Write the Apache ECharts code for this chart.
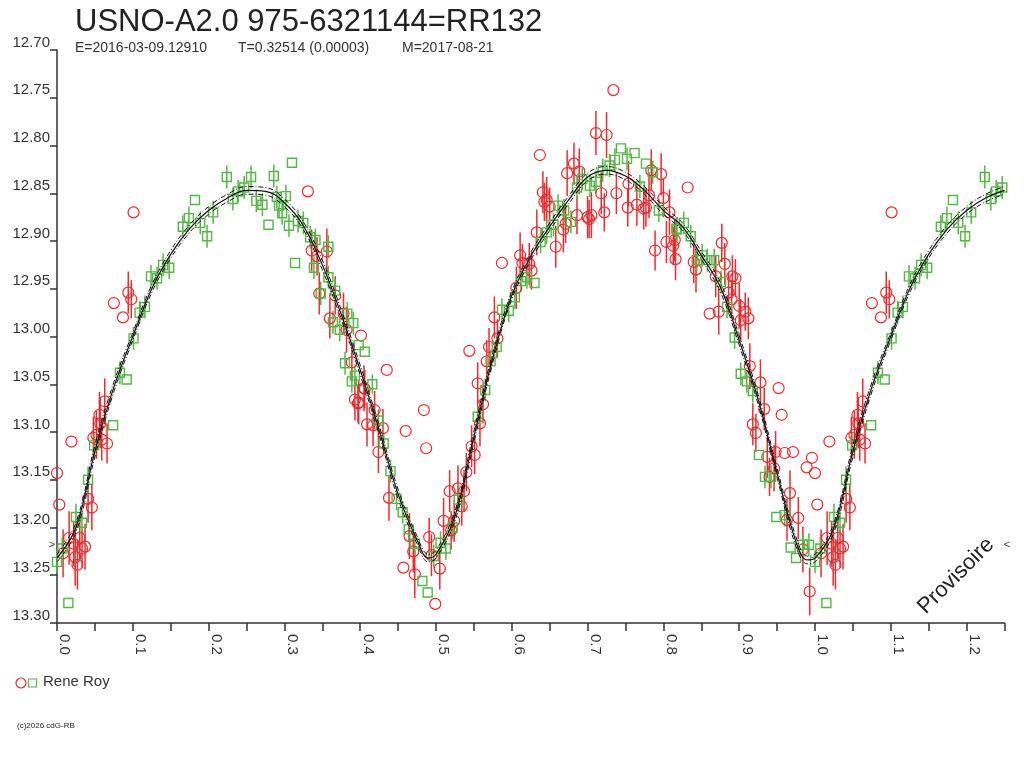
<!DOCTYPE html>
<html>
<head>
<meta charset="utf-8">
<title>RR132</title>
<script src="https://cdn.jsdelivr.net/npm/echarts@6/dist/echarts.min.js"></script>
<style>
html, body { margin: 0; padding: 0; background: #fff; }
#chart { width: 1024px; height: 768px; }
</style>
</head>
<body>
<div id="chart"></div>
<script>
var titleText = 'USNO-A2.0 975-6321144=RR132';
var subTexts = ['E=2016-03-09.12910', 'T=0.32514 (0.00003)', 'M=2017-08-21'];
var observer = 'Rene Roy';
var copyText = '(c)2026 cdG-RB';
var stampText = 'Provisoire';
var refMag = 13.218;

// [phase, mag, error] -- error 0 means no bar drawn
var redObs = [
    [0.000,13.143,0],[0.003,13.176,0],[0.008,13.227,0.025],[0.016,13.211,0.028],[0.019,13.110,0],
    [0.022,13.217,0.024],[0.024,13.231,0.030],[0.027,13.239,0.026],[0.030,13.211,0.022],[0.033,13.222,0.020],
    [0.037,13.220,0.024],[0.041,13.170,0.025],[0.046,13.179,0.024],[0.048,13.106,0.022],[0.052,13.103,0.025],
    [0.056,13.082,0.024],[0.057,13.091,0.026],[0.059,13.108,0.022],[0.063,13.068,0.024],[0.066,13.112,0.021],
    [0.075,12.965,0],[0.087,12.980,0],[0.094,12.954,0.022],[0.098,12.961,0.020],[0.101,12.870,0],
    [0.331,12.848,0],[0.336,12.910,0.022],[0.343,12.916,0.020],[0.346,12.955,0.022],[0.356,12.911,0.024],
    [0.360,12.981,0.021],[0.367,12.957,0.020],[0.378,12.976,0.022],[0.382,12.993,0.024],[0.389,13.027,0.020],
    [0.393,13.066,0.022],[0.397,13.070,0.020],[0.398,13.069,0.023],[0.401,12.999,0],[0.405,13.054,0.024],
    [0.406,13.055,0.020],[0.409,13.092,0.023],[0.417,13.093,0.022],[0.419,13.077,0.020],[0.424,13.121,0.022],
    [0.430,13.096,0.020],[0.435,13.035,0],[0.438,13.169,0.024],[0.457,13.242,0],[0.460,13.099,0],
    [0.465,13.209,0.024],[0.470,13.225,0.022],[0.472,13.249,0.025],[0.484,13.077,0],[0.487,13.117,0],
    [0.491,13.210,0.020],[0.494,13.229,0.022],[0.499,13.280,0],[0.505,13.243,0.022],[0.510,13.193,0.024],
    [0.518,13.162,0.022],[0.520,13.203,0.020],[0.524,13.193,0.022],[0.529,13.159,0.024],[0.534,13.178,0.020],
    [0.537,13.162,0.022],[0.540,13.142,0.020],[0.544,13.015,0],[0.547,13.115,0.022],[0.551,13.124,0.020],
    [0.555,13.049,0.022],[0.558,13.091,0.024],[0.562,13.071,0.020],[0.567,13.026,0.022],[0.570,13.011,0.020],
    [0.577,12.980,0.022],[0.581,13.002,0.020],[0.587,12.923,0],
    [0.606,12.949,0.022],[0.611,12.915,0.024],[0.614,12.923,0.020],[0.623,12.924,0.022],[0.626,12.931,0.020],
    [0.633,12.891,0.024],[0.637,12.810,0],[0.641,12.849,0.022],[0.643,12.859,0.020],[0.646,12.857,0.024],
    [0.650,12.864,0.020],[0.658,12.906,0.022],[0.668,12.888,0.024],[0.671,12.882,0.020],[0.673,12.829,0.024],
    [0.682,12.819,0.022],[0.686,12.873,0.020],[0.689,12.827,0.024],[0.700,12.875,0.022],[0.702,12.877,0.020],
    [0.705,12.873,0.024],[0.711,12.787,0.023],[0.718,12.850,0.022],[0.722,12.870,0.020],[0.725,12.789,0.024],
    [0.734,12.742,0],[0.738,12.850,0.022],[0.753,12.865,0.020],[0.754,12.840,0.024],[0.765,12.862,0.022],
    [0.774,12.866,0.022],[0.777,12.865,0.020],[0.781,12.852,0.024],[0.784,12.826,0.022],[0.789,12.910,0.021],
    [0.797,12.830,0.022],[0.800,12.855,0.020],[0.804,12.901,0.022],[0.808,12.870,0.024],[0.813,12.905,0.020],
    [0.815,12.899,0.022],[0.816,12.919,0.022],[0.832,12.844,0],[0.840,12.922,0.022],[0.843,12.930,0.024],
    [0.861,12.976,0],[0.869,12.937,0.022],[0.873,12.974,0.024],[0.877,12.902,0.020],[0.881,12.924,0.022],
    [0.886,12.954,0.022],[0.890,12.961,0.020],[0.891,12.937,0.022],[0.895,12.939,0.020],[0.900,12.968,0.024],
    [0.902,12.983,0.022],[0.908,12.974,0.020],[0.912,12.981,0.022],[0.914,13.031,0.024],[0.918,13.092,0.022],
    [0.922,13.101,0.020],[0.928,13.048,0.024],[0.933,13.076,0.022],[0.937,13.126,0.022],[0.940,13.147,0.020],
    [0.946,13.138,0.024],[0.948,13.121,0.022],[0.952,13.054,0],[0.956,13.082,0],[0.960,13.122,0],
    [0.963,13.192,0.022],[0.967,13.164,0.024],[0.971,13.121,0],[0.978,13.190,0.022],[0.984,13.223,0.024],
    [0.989,13.137,0],[0.993,13.267,0.025],[0.996,13.127,0]
];

var greenObs = [
    [0.000,13.236,0.012],[0.007,13.222,0.012],[0.015,13.279,0],[0.025,13.189,0.014],[0.033,13.195,0.012],
    [0.041,13.150,0.014],[0.049,13.114,0.012],[0.074,13.093,0],[0.083,13.038,0.012],[0.092,13.045,0],
    [0.101,13.002,0.012],[0.109,12.975,0.012],[0.116,12.969,0.012],[0.124,12.937,0.012],[0.132,12.939,0.012],
    [0.140,12.925,0.012],[0.148,12.928,0.012],[0.166,12.885,0.012],[0.174,12.876,0.012],[0.182,12.857,0],
    [0.189,12.881,0.012],[0.198,12.895,0.012],[0.206,12.870,0.012],[0.224,12.833,0.012],[0.232,12.856,0.012],
    [0.239,12.848,0.012],[0.247,12.844,0.012],[0.256,12.833,0.012],[0.263,12.858,0.012],[0.271,12.862,0.012],
    [0.279,12.883,0],[0.286,12.832,0.012],[0.290,12.854,0.012],[0.293,12.863,0.012],[0.297,12.871,0.012],
    [0.302,12.853,0.012],[0.306,12.884,0.012],[0.310,12.818,0],[0.314,12.923,0],[0.318,12.879,0.012],
    [0.325,12.881,0.012],[0.334,12.896,0.012],[0.339,12.928,0.012],[0.341,12.899,0.012],[0.348,12.955,0.012],
    [0.358,12.906,0.012],[0.358,12.938,0.012],[0.364,12.985,0.012],[0.367,12.952,0.012],[0.373,12.993,0.012],
    [0.380,13.028,0.012],[0.383,12.976,0.012],[0.389,13.047,0.012],[0.391,12.986,0.012],[0.393,13.041,0.012],
    [0.398,13.009,0],[0.406,13.016,0],[0.416,13.050,0.010],[0.424,13.088,0.012],[0.431,13.112,0.012],
    [0.440,13.141,0.012],[0.448,13.170,0.012],[0.456,13.184,0.012],[0.464,13.202,0.012],[0.472,13.217,0.012],
    [0.482,13.256,0],[0.489,13.268,0],[0.497,13.230,0.012],[0.506,13.216,0.012],[0.513,13.222,0.012],
    [0.522,13.200,0.012],[0.530,13.171,0.012],[0.555,13.084,0.012],[0.565,13.056,0.012],[0.572,13.026,0.012],
    [0.580,13.011,0.012],[0.587,12.972,0.012],[0.596,12.973,0.012],[0.604,12.959,0.012],[0.612,12.942,0.012],
    [0.620,12.938,0.012],[0.630,12.944,0],[0.638,12.901,0.012],[0.646,12.891,0.012],[0.655,12.883,0.012],
    [0.661,12.863,0.012],[0.669,12.868,0.012],[0.678,12.880,0.012],[0.686,12.844,0.012],[0.693,12.835,0.012],
    [0.703,12.842,0.012],[0.711,12.838,0.012],[0.720,12.826,0.012],[0.729,12.821,0.012],[0.736,12.815,0.012],
    [0.744,12.803,0],[0.752,12.814,0.012],[0.762,12.808,0],[0.769,12.843,0.012],[0.777,12.819,0],
    [0.786,12.828,0.012],[0.794,12.868,0.012],[0.817,12.887,0.012],[0.818,12.888,0.012],[0.827,12.881,0.012],
    [0.836,12.895,0.012],[0.844,12.920,0.012],[0.851,12.915,0.012],[0.858,12.920,0.012],[0.867,12.920,0.012],
    [0.876,12.943,0.012],[0.884,12.969,0.012],[0.894,13.001,0.012],[0.902,13.039,0.012],[0.910,13.047,0.012],
    [0.918,13.057,0.012],[0.926,13.124,0],[0.934,13.147,0.012],[0.942,13.147,0.012],[0.949,13.189,0],
    [0.960,13.187,0.012],[0.968,13.221,0],[0.975,13.232,0],[0.984,13.218,0.012],[0.992,13.218,0.012]
];

// fitted light curve and its envelope
var fitPhase = [0, 0.025, 0.05, 0.075, 0.1, 0.125, 0.15, 0.175, 0.2, 0.225, 0.25, 0.275, 0.3, 0.325, 0.35,
    0.375, 0.4, 0.425, 0.45, 0.475, 0.49, 0.5, 0.525, 0.55, 0.575, 0.6, 0.625, 0.65, 0.675, 0.7, 0.725,
    0.75, 0.775, 0.8, 0.825, 0.85, 0.875, 0.9, 0.925, 0.95, 0.975, 0.99, 1.0];
var fitMag = [13.232, 13.200, 13.120, 13.053, 13.000, 12.950, 12.914, 12.887, 12.868, 12.855, 12.847, 12.848,
    12.860, 12.884, 12.925, 12.977, 13.035, 13.098, 13.165, 13.213, 13.232, 13.228, 13.188, 13.105, 13.022,
    12.957, 12.916, 12.885, 12.857, 12.833, 12.826, 12.832, 12.847, 12.868, 12.885, 12.915, 12.948, 13.004,
    13.066, 13.143, 13.215, 13.234, 13.232];
var fitUpper = [13.228, 13.195, 13.114, 13.048, 12.996, 12.946, 12.910, 12.883, 12.864, 12.851, 12.843, 12.844,
    12.856, 12.880, 12.920, 12.972, 13.030, 13.093, 13.160, 13.209, 13.228, 13.224, 13.183, 13.099, 13.017,
    12.953, 12.912, 12.881, 12.853, 12.829, 12.822, 12.828, 12.843, 12.864, 12.881, 12.911, 12.943, 12.999,
    13.061, 13.138, 13.210, 13.230, 13.228];
var fitLower = [13.236, 13.205, 13.126, 13.058, 13.004, 12.954, 12.918, 12.891, 12.872, 12.859, 12.851, 12.852,
    12.864, 12.888, 12.930, 12.982, 13.040, 13.103, 13.170, 13.217, 13.236, 13.232, 13.193, 13.111, 13.027,
    12.961, 12.920, 12.889, 12.861, 12.837, 12.830, 12.836, 12.851, 12.872, 12.889, 12.919, 12.953, 13.009,
    13.071, 13.148, 13.220, 13.238, 13.236];

var redColor = '#ee2a2e';
var greenColor = '#55b747';
var textColor = '#333';
var fontName = '"Liberation Sans", Arial, sans-serif';

// phase diagram shows 0 .. 1.25, so the first quarter is drawn again after 1.0
function wrapObs(list) {
    var out = [];
    for (var i = 0; i < list.length; i++) {
        out.push(list[i]);
    }
    for (var j = 0; j < list.length; j++) {
        if (list[j][0] <= 0.25) {
            out.push([list[j][0] + 1, list[j][1], list[j][2]]);
        }
    }
    return out;
}

function wrapCurve(mags) {
    var out = [];
    for (var i = 0; i < fitPhase.length; i++) {
        out.push([fitPhase[i], mags[i]]);
    }
    for (var j = 0; j < fitPhase.length; j++) {
        if (fitPhase[j] > 0 && fitPhase[j] <= 0.25) {
            out.push([fitPhase[j] + 1, mags[j]]);
        }
    }
    return out;
}

function errBars(color) {
    return function (params, api) {
        var e = api.value(2);
        if (!e) {
            return null;
        }
        var x = api.value(0), y = api.value(1);
        var p1 = api.coord([x, y - e]);
        var p2 = api.coord([x, y + e]);
        return {
            type: 'line',
            shape: {x1: p1[0], y1: p1[1], x2: p2[0], y2: p2[1]},
            style: {stroke: color, lineWidth: 1.5}
        };
    };
}

var redData = wrapObs(redObs);
var greenData = wrapObs(greenObs);

var myChart = echarts.init(document.getElementById('chart'));

var option = {
    animation: false,
    backgroundColor: '#fff',
    grid: {left: 57, right: 19.5, top: 50, bottom: 145},
    xAxis: {
        type: 'value',
        min: 0,
        max: 1.25,
        interval: 0.05,
        splitLine: {show: false},
        axisLine: {lineStyle: {color: textColor, width: 1.5}},
        axisTick: {length: 8, lineStyle: {color: textColor, width: 1.5}},
        axisLabel: {
            rotate: -90,
            margin: 11,
            color: textColor,
            fontSize: 15,
            fontFamily: fontName,
            verticalAlign: 'bottom',
            formatter: function (v) {
                return Math.round(v * 100) % 10 === 0 ? v.toFixed(1) : '';
            }
        }
    },
    yAxis: {
        type: 'value',
        inverse: true,
        min: 12.70,
        max: 13.30,
        interval: 0.05,
        splitLine: {show: false},
        axisLine: {show: true, lineStyle: {color: textColor, width: 1.5}},
        axisTick: {show: true, length: 7, lineStyle: {color: textColor, width: 1.5}},
        axisLabel: {
            margin: 7,
            color: textColor,
            fontSize: 15,
            fontFamily: fontName,
            verticalAlign: 'bottom',
            formatter: function (v) {
                return v.toFixed(2);
            }
        }
    },
    series: [
        {
            type: 'custom',
            name: 'redErr',
            data: redData,
            renderItem: errBars(redColor),
            z: 2
        },
        {
            type: 'custom',
            name: 'greenErr',
            data: greenData,
            renderItem: errBars(greenColor),
            z: 2
        },
        {
            type: 'scatter',
            name: observer,
            data: redData,
            symbol: 'circle',
            symbolSize: 11,
            itemStyle: {color: 'rgba(255,255,255,0)', borderColor: redColor, borderWidth: 1.2, opacity: 1},
            z: 3
        },
        {
            type: 'scatter',
            name: observer + ' V',
            data: greenData,
            symbol: 'rect',
            symbolSize: 9,
            itemStyle: {color: 'rgba(255,255,255,0)', borderColor: greenColor, borderWidth: 1.4, opacity: 1},
            z: 3
        },
        {
            type: 'line',
            data: wrapCurve(fitUpper),
            smooth: 0.4,
            symbol: 'none',
            lineStyle: {color: '#111', width: 1, type: [5, 2, 1, 2]},
            z: 4
        },
        {
            type: 'line',
            data: wrapCurve(fitLower),
            smooth: 0.4,
            symbol: 'none',
            lineStyle: {color: '#111', width: 1, type: [5, 2, 1, 2]},
            z: 4
        },
        {
            type: 'line',
            data: wrapCurve(fitMag),
            smooth: 0.4,
            symbol: 'none',
            lineStyle: {color: '#111', width: 1.2},
            z: 4
        }
    ]
};
myChart.setOption(option);

// texts and legend around the plot
var refY = myChart.convertToPixel({yAxisIndex: 0}, refMag);
myChart.setOption({
    graphic: [
        {type: 'text', left: 75, top: 7,
            style: {text: titleText, fill: '#222', font: '31px ' + fontName}},
        {type: 'text', left: 75, top: 41,
            style: {text: subTexts[0], fill: textColor, font: '14px ' + fontName}},
        {type: 'text', left: 238, top: 41,
            style: {text: subTexts[1], fill: textColor, font: '14px ' + fontName}},
        {type: 'text', left: 402, top: 41,
            style: {text: subTexts[2], fill: textColor, font: '14px ' + fontName}},
        {type: 'text', x: 52, y: refY,
            style: {text: '>', fill: textColor, font: '11px ' + fontName, align: 'center', verticalAlign: 'middle'}},
        {type: 'text', x: 1007, y: refY,
            style: {text: '<', fill: textColor, font: '11px ' + fontName, align: 'center', verticalAlign: 'middle'}},
        {type: 'text', x: 956, y: 576, rotation: Math.PI / 4,
            style: {text: stampText, fill: '#222', font: '22px ' + fontName, align: 'center', verticalAlign: 'middle'}},
        {type: 'circle', shape: {cx: 21, cy: 683, r: 5},
            style: {fill: 'none', stroke: redColor, lineWidth: 1.2}},
        {type: 'rect', shape: {x: 28.5, y: 679, width: 8, height: 8},
            style: {fill: 'none', stroke: greenColor, lineWidth: 1.2}},
        {type: 'text', x: 43, y: 682,
            style: {text: observer, fill: textColor, font: '15px ' + fontName, verticalAlign: 'middle'}},
        {type: 'text', x: 17, y: 726,
            style: {text: copyText, fill: '#222', font: '8px ' + fontName, verticalAlign: 'middle'}}
    ]
});
</script>
</body>
</html>
